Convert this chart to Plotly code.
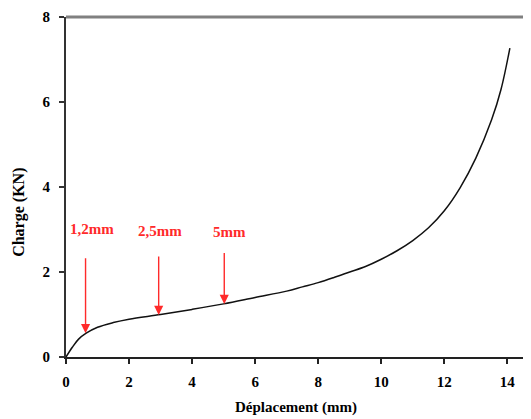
import plotly.graph_objects as go

# Curve data
displacement = [0, 0.2, 0.4, 0.64, 1.0, 1.5, 2.0, 3.0, 4.0, 5.0, 6.0, 7.0, 7.5, 8.0, 8.5, 9.0,
                9.5, 10.0, 10.5, 11.0, 11.5, 12.0, 12.5, 13.0, 13.5, 13.8, 14.08]
charge = [0, 0.23, 0.42, 0.56, 0.70, 0.81, 0.89, 1.0, 1.12, 1.25, 1.40, 1.55, 1.65, 1.75, 1.87, 2.0,
          2.13, 2.30, 2.50, 2.74, 3.04, 3.44, 3.98, 4.68, 5.58, 6.30, 7.27]

# Arrow annotations
arrow_labels = ["1,2mm", "2,5mm", "5mm"]
arrow_x = [0.62, 2.94, 5.02]
arrow_tip_y = [0.56, 0.99, 1.25]
arrow_tail_y = [2.36, 2.40, 2.48]
label_x = [0.82, 2.97, 5.19]
label_y = [3.01, 2.97, 2.94]

x_ticks = [0, 2, 4, 6, 8, 10, 12, 14]
y_ticks = [0, 2, 4, 6, 8]

FONT = "Liberation Serif, Times New Roman, serif"
RED = "#ff2a2a"

fig = go.Figure()
fig.add_trace(go.Scatter(x=displacement, y=charge, mode="lines",
                         line=dict(color="#111111", width=1.5, shape="spline", smoothing=1.0),
                         showlegend=False, hoverinfo="skip"))

annotations = []
for lab, ax_, tip, tail, lx, ly in zip(arrow_labels, arrow_x, arrow_tip_y, arrow_tail_y, label_x, label_y):
    annotations.append(dict(x=ax_, y=tip, ax=ax_, ay=tail, xref="x", yref="y",
                            axref="x", ayref="y", text="", showarrow=True,
                            arrowhead=2, arrowsize=1.3, arrowwidth=1.4, arrowcolor=RED))
    annotations.append(dict(x=lx, y=ly, xref="x", yref="y", text="<b>%s</b>" % lab,
                            showarrow=False, font=dict(family=FONT, size=15, color=RED)))

# axis titles
annotations.append(dict(x=0.494, y=0, xref="paper", yref="paper", yshift=-50,
                        text="<b>Déplacement (mm)</b>", showarrow=False,
                        xanchor="center", yanchor="middle",
                        font=dict(family=FONT, size=15, color="black")))
annotations.append(dict(x=0, y=0.424, xref="paper", yref="paper", xshift=-47,
                        text="<b>Charge (KN)</b>", showarrow=False, textangle=-90,
                        xanchor="center", yanchor="middle",
                        font=dict(family=FONT, size=16, color="black")))

fig.update_layout(
    width=523, height=411,
    margin=dict(l=58, r=0, t=9, b=62, autoexpand=False),
    paper_bgcolor="white", plot_bgcolor="white",
    font=dict(family=FONT, color="black"),
    annotations=annotations,
    shapes=[dict(type="line", xref="paper", yref="paper", x0=0, x1=1, y0=1, y1=1,
                 line=dict(color="#808080", width=3))],
    xaxis=dict(range=[0, 14.75], tickvals=x_ticks, ticktext=["<b>%d</b>" % v for v in x_ticks],
               showgrid=False, zeroline=False, showline=True, linecolor="#222222", linewidth=2,
               ticks="outside", ticklen=5, tickwidth=1.5, tickcolor="#222222", automargin=False,
               tickfont=dict(family=FONT, size=15, color="black"), ticklabelstandoff=5),
    yaxis=dict(range=[0, 8], tickvals=y_ticks, ticktext=["<b>%d</b>" % v for v in y_ticks],
               showgrid=False, zeroline=False, showline=True, linecolor="#333333", linewidth=2,
               ticks="outside", ticklen=5, tickwidth=1.5, tickcolor="#333333", automargin=False,
               tickfont=dict(family=FONT, size=15, color="black"), ticklabelstandoff=6),
)

fig.write_html("out.html")
